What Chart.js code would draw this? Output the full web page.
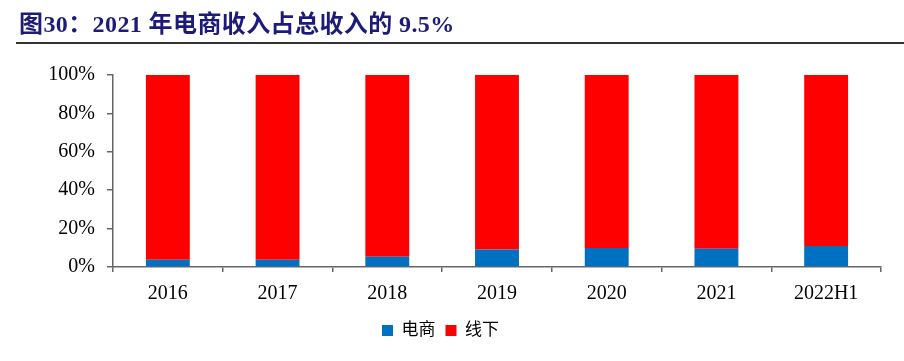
<!DOCTYPE html>
<html lang="zh">
<head>
  <meta charset="UTF-8">
  <title>电商收入占比</title>
  <script src="https://cdn.jsdelivr.net/npm/chart.js"></script>
  <style>
    html, body {
      margin: 0;
      padding: 0;
      background: #fff;
    }
    .wrap {
      position: relative;
      width: 904px;
      height: 361px;
    }
    .title {
      position: absolute;
      left: 19px;
      top: 4px;
      font-family: "Liberation Serif", "Noto Sans CJK SC", serif;
      font-weight: bold;
      font-size: 24px;
      letter-spacing: 0.4px;
      color: #1c1c78;
      white-space: nowrap;
    }
    .rule {
      position: absolute;
      left: 16px;
      right: 0;
      top: 42px;
      height: 2px;
      background: #333;
    }
    #chart {
      position: absolute;
      left: 0;
      top: 0;
    }
  </style>
</head>
<body>
  <div class="wrap">
    <canvas id="chart" width="904" height="361"></canvas>
    <div class="title">图30：2021 年电商收入占总收入的 9.5%</div>
    <div class="rule"></div>
  </div>

  <script>
    const years = ['2016', '2017', '2018', '2019', '2020', '2021', '2022H1'];
    const online = [3.8, 3.8, 5.4, 9.1, 9.9, 9.5, 10.9];      // 电商
    const offline = [96.2, 96.2, 94.6, 90.9, 90.1, 90.5, 89.1]; // 线下
    const yTicks = [0, 20, 40, 60, 80, 100];

    const serif = '"Liberation Serif", "Noto Sans CJK SC", serif';
    const axisGray = '#666';

    new Chart(document.getElementById('chart'), {
      type: 'bar',
      data: {
        labels: years,
        datasets: [
          { label: '电商', data: online, backgroundColor: '#0070C0', categoryPercentage: 0.8, barPercentage: 0.5 },
          { label: '线下', data: offline, backgroundColor: '#FF0000', categoryPercentage: 0.8, barPercentage: 0.5 }
        ]
      },
      options: {
        responsive: false,
        animation: false,
        layout: { padding: { top: 75, right: 23, bottom: 12, left: 0 } },
        plugins: {
          legend: {
            position: 'bottom',
            labels: {
              boxWidth: 11,
              boxHeight: 11,
              padding: 10,
              color: '#000',
              font: { family: serif, size: 17 }
            }
          },
          tooltip: { enabled: false }
        },
        scales: {
          x: {
            stacked: true,
            grid: { offset: true, drawOnChartArea: false, drawTicks: true, tickLength: 5, color: axisGray, lineWidth: 1.5 },
            border: { display: true, color: axisGray, width: 1.5 },
            ticks: { color: '#000', padding: 10, font: { family: serif, size: 20 } },
            afterFit: s => { s.height = 45; }
          },
          y: {
            stacked: true,
            min: 0,
            max: 100,
            afterBuildTicks: s => { s.ticks = yTicks.map(v => ({ value: v })); },
            grid: { drawOnChartArea: false, drawTicks: true, tickLength: 6, color: axisGray, lineWidth: 1.5 },
            border: { display: true, color: axisGray, width: 1.5 },
            ticks: {
              color: '#000',
              padding: 12,
              font: { family: serif, size: 20 },
              callback: v => v + '%'
            },
            afterFit: s => { s.width = 113; }
          }
        }
      }
    });
  </script>
</body>
</html>
